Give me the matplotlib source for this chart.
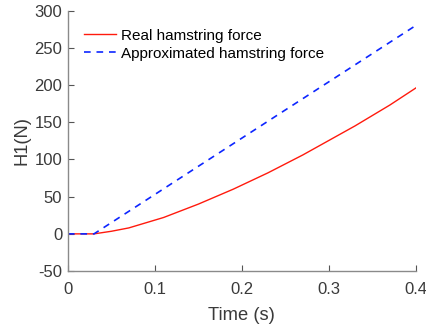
import matplotlib
matplotlib.use("Agg")
import matplotlib.pyplot as plt

plt.rcParams['font.family'] = ['Liberation Sans', 'DejaVu Sans']
plt.rcParams['axes.unicode_minus'] = False

t_real = [0.0, 0.03, 0.05, 0.07, 0.09, 0.11, 0.13, 0.15, 0.17, 0.19, 0.21,
          0.23, 0.25, 0.27, 0.29, 0.31, 0.33, 0.35, 0.37, 0.40]
f_real = [0.0, 0.0, 3.5, 8.0, 15.0, 22.0, 31.0, 40.0, 50.0, 60.0, 71.0,
          82.0, 94.0, 106.0, 119.0, 132.0, 145.0, 159.0, 173.0, 196.0]
t_approx = [0.0, 0.03, 0.40]
f_approx = [0.0, 0.0, 280.0]

xticks = [0, 0.1, 0.2, 0.3, 0.4]
xticklabels = ['0', '0.1', '0.2', '0.3', '0.4']
yticks = [-50, 0, 50, 100, 150, 200, 250, 300]

fig = plt.figure(figsize=(4.27, 3.29), dpi=100)
ax = fig.add_axes([0.159, 0.176, 0.815, 0.792])

ax.plot(t_real, f_real, color=(1, 0.1, 0.05), lw=1.0, label='Real hamstring force')
ax.plot(t_approx, f_approx, color=(0.05, 0.15, 1), lw=1.2, linestyle=(0, (4, 3.5)),
        label='Approximated hamstring force')

ax.set_xlim(0, 0.4)
ax.set_ylim(-50, 300)
ax.set_xticks(xticks)
ax.set_xticklabels(xticklabels)
ax.set_yticks(yticks)

for s in ['top', 'right']:
    ax.spines[s].set_visible(False)
for s in ['left', 'bottom']:
    ax.spines[s].set_color('#8a8a8a')
    ax.spines[s].set_linewidth(1.0)

ax.tick_params(direction='in', length=4, width=0.8, color='#555555',
               labelsize=12, labelcolor='#3a3a3a')
ax.tick_params(axis='x', pad=8)
ax.tick_params(axis='y', pad=4)

ax.set_xlabel('Time (s)', fontsize=13.2, color='#3a3a3a', labelpad=7)
ax.set_ylabel('H1(N)', fontsize=13.2, color='#3a3a3a', labelpad=3)

leg = ax.legend(loc='upper left', frameon=False, fontsize=11, handlelength=2.15,
                handletextpad=0.3, borderaxespad=0.0, borderpad=0.0,
                labelspacing=0.25, bbox_to_anchor=(0.045, 0.93))

fig.savefig('out.png', dpi=100)
